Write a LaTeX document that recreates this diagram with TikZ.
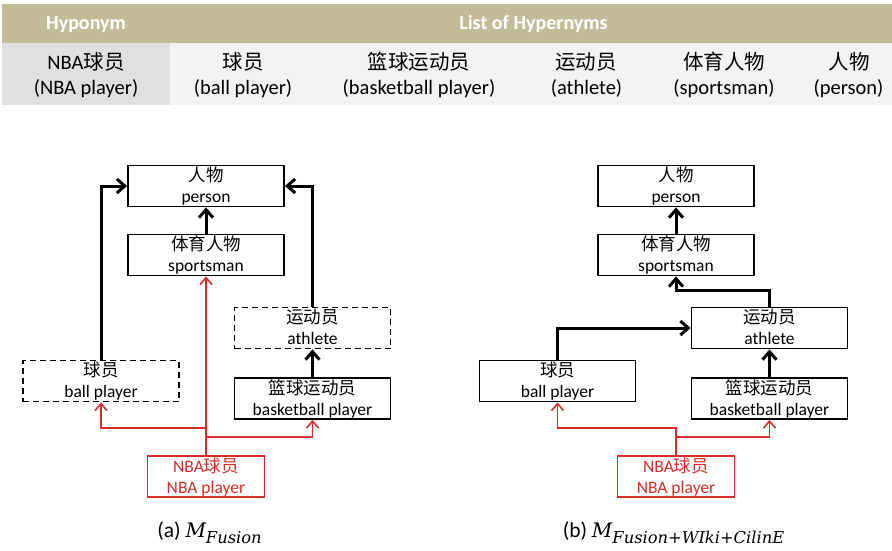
\documentclass[tikz,border=0pt]{standalone}
\usepackage{fontspec}
\setmainfont{Carlito}
\newfontfamily\cjk{Noto Sans CJK SC}
\newfontfamily\capser{DejaVu Serif}
\usetikzlibrary{arrows.meta}
\definecolor{hdrtan}{RGB}{196,188,152}
\definecolor{rowbg}{RGB}{243,243,243}
\definecolor{hypobg}{RGB}{224,224,224}
\definecolor{myred}{RGB}{215,45,40}
\newcommand\cbox[7]{%
  \node[#1] (#3) at (#4,#5) {};
  \node[#2, anchor=base] (#3-cn) at (#4,#5-4.5) {#6};
  \node[#2, anchor=base] (#3-en) at (#4,#5+16.5) {#7};
}
\newcommand\capmath[1]{{\capser\itshape\fontsize{20}{22}\selectfont M}\raisebox{-6pt}{\capser\itshape\fontsize{16.3}{18}\selectfont #1}}
\begin{document}
\begin{tikzpicture}[x=1pt,y=-1pt,
  bx/.style={draw, line width=1.8pt, minimum width=156pt, minimum height=41pt, inner sep=0pt},
  dbx/.style={bx, dash pattern=on 6pt off 4pt},
  rbx/.style={draw=myred, line width=1.5pt, minimum width=117pt, minimum height=41pt, inner sep=0pt},
  txt/.style={font=\fontsize{17.5}{21}\selectfont, inner sep=0pt},
  rtxt/.style={txt, text=myred},
  hd/.style={font=\fontsize{20.5}{24}\selectfont, inner sep=0pt, anchor=base},
  hdb/.style={hd, text=white, font=\fontsize{20}{24}\selectfont\bfseries},
  captxt/.style={font=\fontsize{21.5}{24}\selectfont, inner sep=0pt, anchor=base},
  blk/.style={line width=3pt, -{Straight Barb[length=8pt,width=14pt]}},
  rarr/.style={draw=myred, line width=1.6pt, -{Straight Barb[length=7pt,width=12pt]}}
]
\useasboundingbox (0,0) rectangle (892,551);
% header table
\fill[hdrtan] (2,4) rectangle (892,43);
\fill[rowbg] (2,43) rectangle (892,105);
\fill[hypobg] (2,43) rectangle (170,105);
\node[hdb] (h1) at (86,30) {Hyponym};
\node[hdb] (h2) at (533.5,30) {List of Hypernyms};
\node[hd] (c1a) at (86,70) {NBA{\cjk 球员}};
\node[hd] (c1b) at (86,95) {(NBA player)};
\node[hd] (c2a) at (243,70) {\cjk 球员};
\node[hd] (c2b) at (243,95) {(ball player)};
\node[hd] (c3a) at (419,70) {\cjk 篮球运动员};
\node[hd] (c3b) at (419,95) {(basketball player)};
\node[hd] (c4a) at (586,70) {\cjk 运动员};
\node[hd] (c4b) at (586.5,95) {(athlete)};
\node[hd] (c5a) at (724,70) {\cjk 体育人物};
\node[hd] (c5b) at (724,95) {(sportsman)};
\node[hd] (c6a) at (849,70) {\cjk 人物};
\node[hd] (c6b) at (848.5,95) {(person)};
% (a)
\cbox{bx}{txt}{per}{206}{186}{\cjk 人物}{person}
\cbox{bx}{txt}{sp}{206}{255}{\cjk 体育人物}{sportsman}
\cbox{dbx}{txt}{ath}{312.5}{328}{\cjk 运动员}{athlete}
\cbox{dbx}{txt}{bp}{101}{381}{\cjk 球员}{ball player}
\cbox{bx}{txt}{bb}{312.5}{398.5}{\cjk 篮球运动员}{basketball player}
\cbox{rbx}{rtxt}{nba}{206}{476.5}{NBA{\cjk 球员}}{NBA player}
\draw[blk] (sp.north) -- (per.south);
\draw[blk] (bp.north) |- (per.west);
\draw[blk] (ath.north) |- (per.east);
\draw[blk] (bb.north) -- (ath.south);
\draw[rarr] (nba.north) -- (sp.south);
\draw[rarr] (nba.north) -- ++(0,-27.5) -| (bp.south);
\draw[rarr] (nba.north) -- ++(0,-18.5) -| (bb.south);
\node[captxt] (capa) at (209.5,537) {(a) \capmath{Fusion}};
% (b)
\cbox{bx}{txt}{per2}{676}{186}{\cjk 人物}{person}
\cbox{bx}{txt}{sp2}{676}{255}{\cjk 体育人物}{sportsman}
\cbox{bx}{txt}{ath2}{769.5}{328}{\cjk 运动员}{athlete}
\cbox{bx}{txt}{bp2}{557.5}{381}{\cjk 球员}{ball player}
\cbox{bx}{txt}{bb2}{769.5}{398.5}{\cjk 篮球运动员}{basketball player}
\cbox{rbx}{rtxt}{nba2}{676}{476.5}{NBA{\cjk 球员}}{NBA player}
\draw[blk] (sp2.north) -- (per2.south);
\draw[blk] (ath2.north) -- ++(0,-16) -| (sp2.south);
\draw[blk] (bp2.north) |- (ath2.west);
\draw[blk] (bb2.north) -- (ath2.south);
\draw[rarr] (nba2.north) -- ++(0,-27.5) -| (bp2.south);
\draw[rarr] (nba2.north) -- ++(0,-18.5) -| (bb2.south);
\node[captxt] (capb) at (673.5,537) {(b) \capmath{Fusion+WIki+CilinE}};
\end{tikzpicture}
\end{document}
